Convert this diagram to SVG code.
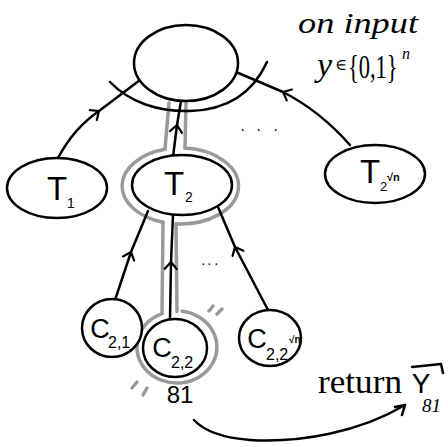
<svg xmlns="http://www.w3.org/2000/svg" width="448" height="447" viewBox="0 0 448 447">
<style>
.k{fill:none;stroke:#000;stroke-width:2.5;stroke-linecap:round;stroke-linejoin:round}
.g{fill:none;stroke:#9a9a9a;stroke-width:3.5;stroke-linecap:round}
.n{fill:#fff;stroke:#000;stroke-width:2.5}
.lb{font-family:"Liberation Sans","DejaVu Sans",sans-serif;fill:#000}
.hw{font-family:"Liberation Serif","DejaVu Serif",serif;fill:#000}
.e{marker-mid:url(#chev)}
</style>
<defs>
<marker id="chev" markerUnits="userSpaceOnUse" markerWidth="20" markerHeight="20" refX="0" refY="0" orient="auto" viewBox="-10 -10 20 20" overflow="visible">
<path d="M-7,-6 L0,0 L-7,6" fill="none" stroke="#000" stroke-width="2.2" stroke-linecap="round" stroke-linejoin="round"/>
</marker>
</defs>
<g id="highlight">
<path class="g" d="M169,103 L165,149"/>
<path class="g" d="M186,103 L185,148"/>
<path class="g" d="M165,149.3 A58,38 0 0 0 163,222.3"/>
<path class="g" d="M185,148.1 A58,38 0 1 1 176,223.9"/>
<path class="g" d="M163,222.3 L162,313.6"/>
<path class="g" d="M176,223.9 L177,311.5"/>
<path class="g" d="M162,313.6 A40,36 0 1 0 182,311.3"/>
<path class="g" d="M209,311 L213,306 M217,314 L222,309"/>
<path class="g" d="M137,382 L132,388 M147,388 L143,395"/>
</g>
<g id="connectors">
<path class="k e" d="M58,158 Q74,128 99,111 L140,80"/>
<path class="k e" d="M350,145 Q320,111 283,92 L236,72"/>
<path class="k" d="M110,82 C130,103 160,112 190,111 C225,110 252,95 267,62"/>
<path class="k e" d="M173,157 L177,125 L181,101"/>
<path class="k e" d="M115,300 L131,252 L148,211"/>
<path class="k e" d="M170,319 L171,262 L173,215"/>
<path class="k e" d="M268,310 L235,247 L218,207"/>
<path class="k" d="M194,420 C205,432 225,438 250,440 C300,443 360,432 405,405"/>
<path class="k" d="M395,407 L405,405 L402,415"/>
</g>
<g id="root">
<ellipse class="n" cx="186" cy="63" rx="52" ry="38"/>
</g>
<g id="T1">
<ellipse class="n" cx="57" cy="188" rx="50" ry="30"/>
<text class="lb" x="57" y="200" font-size="33" text-anchor="middle">T</text>
<text class="lb" x="67" y="208" font-size="14">1</text>
</g>
<g id="T2">
<ellipse class="n" cx="182" cy="185" rx="50" ry="30"/>
<text class="lb" x="174" y="195" font-size="33" text-anchor="middle">T</text>
<text class="lb" x="185" y="202" font-size="14">2</text>
</g>
<g id="T2sqrtn">
<ellipse class="n" cx="375" cy="174" rx="50" ry="29"/>
<text class="lb" x="370" y="183" font-size="33" text-anchor="middle">T</text>
<text class="lb" x="380" y="191" font-size="13">2</text>
<text class="lb" x="387" y="181" font-size="11" font-weight="bold">√n</text>
</g>
<g id="C21">
<ellipse class="n" cx="112" cy="328" rx="30" ry="29"/>
<text class="lb" x="100" y="338" font-size="27" text-anchor="middle">C</text>
<text class="lb" x="108" y="348" font-size="16">2,1</text>
</g>
<g id="C22">
<ellipse class="n" cx="175" cy="348" rx="32" ry="29"/>
<text class="lb" x="162" y="357" font-size="27" text-anchor="middle">C</text>
<text class="lb" x="171" y="368" font-size="16">2,2</text>
</g>
<g id="C22sqrtn">
<ellipse class="n" cx="270" cy="338" rx="31" ry="28"/>
<text class="lb" x="257" y="348" font-size="27" text-anchor="middle">C</text>
<text class="lb" x="266" y="360" font-size="16">2,2</text>
<text class="lb" x="289" y="343" font-size="10" font-weight="bold">√n</text>
</g>
<g id="labels">
<text class="lb" x="240" y="135" font-size="16">·</text>
<text class="lb" x="256" y="135" font-size="16">·</text>
<text class="lb" x="273" y="135" font-size="16">·</text>
<text class="lb" x="201" y="268" font-size="14">·</text>
<text class="lb" x="207" y="268" font-size="14">·</text>
<text class="lb" x="214" y="268" font-size="14">·</text>
<text class="hw" x="298" y="33" font-size="30" font-style="italic" textLength="120" lengthAdjust="spacingAndGlyphs">on input</text>
<text class="hw" x="317" y="76" font-size="34" font-style="italic">y</text>
<text class="hw" x="335" y="70" font-size="16">∈</text>
<text class="hw" transform="translate(348,78) scale(0.66,1)" font-size="34">{0,1}</text>
<text class="hw" x="402" y="59" font-size="16" font-style="italic">n</text>
<text class="lb" x="180" y="403" font-size="24" text-anchor="middle">81</text>
<text class="hw" x="318" y="393" font-size="34" textLength="84" lengthAdjust="spacingAndGlyphs">return</text>
<text class="lb" x="421" y="393" font-size="28" text-anchor="middle">Y</text>
<path class="k" d="M412,367 L441,364 L443,373" stroke-width="2"/>
<text class="hw" x="422" y="412" font-size="19" font-style="italic">81</text>
</g>
</svg>
